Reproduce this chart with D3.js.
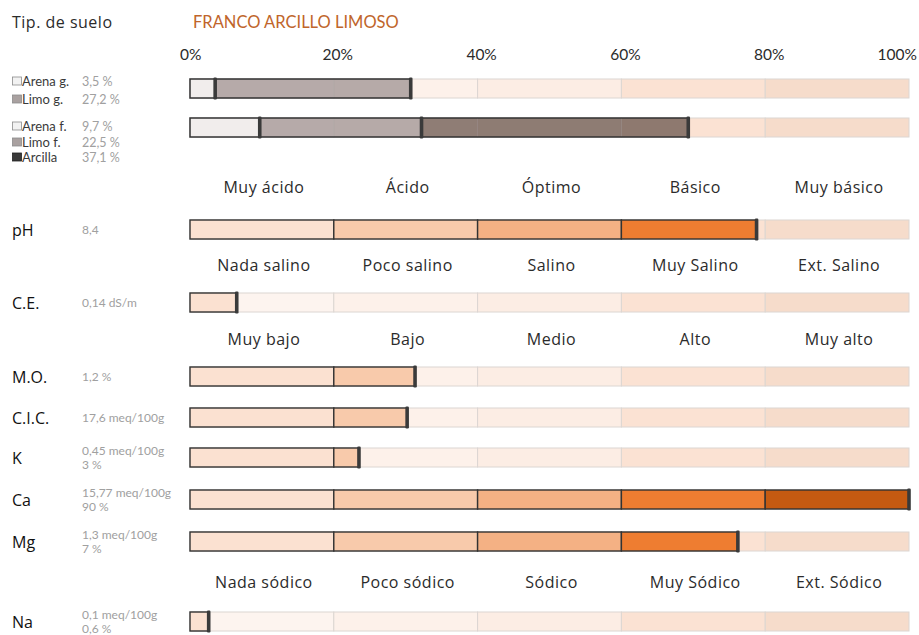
<!DOCTYPE html>
<html>
<head>
<meta charset="utf-8">
<script src="https://d3js.org/d3.v7.min.js"></script>
<style>
  body { margin: 0; background: #fff; }
  text { font-family: Lato, "Open Sans", sans-serif; }
  .wide { font-family: "Open Sans", Lato, sans-serif; }
</style>
</head>
<body>
<div id="container"></div>
<script>

// ---- data ----
var soilType = "FRANCO ARCILLO LIMOSO";
var tickValues = [0, 20, 40, 60, 80, 100];
var tickLabels = ["0%", "20%", "40%", "60%", "80%", "100%"];

var coarseNames = ["Arena g.", "Limo g."];
var coarseValues = [3.5, 27.2];
var coarseLabels = ["3,5 %", "27,2 %"];
var fineNames = ["Arena f.", "Limo f.", "Arcilla"];
var fineValues = [9.7, 22.5, 37.1];
var fineLabels = ["9,7 %", "22,5 %", "37,1 %"];

var phClasses = ["Muy ácido", "Ácido", "Óptimo", "Básico", "Muy básico"];
var ceClasses = ["Nada salino", "Poco salino", "Salino", "Muy Salino", "Ext. Salino"];
var levelClasses = ["Muy bajo", "Bajo", "Medio", "Alto", "Muy alto"];
var naClasses = ["Nada sódico", "Poco sódico", "Sódico", "Muy Sódico", "Ext. Sódico"];

var params = ["pH", "C.E.", "M.O.", "C.I.C.", "K", "Ca", "Mg", "Na"];
var paramText = [["8,4"], ["0,14 dS/m"], ["1,2 %"], ["17,6 meq/100g"],
  ["0,45 meq/100g", "3 %"], ["15,77 meq/100g", "90 %"], ["1,3 meq/100g", "7 %"], ["0,1 meq/100g", "0,6 %"]];
// position of each value on the 0-100 class scale
var paramLevel = [78.8, 6.5, 31.3, 30.2, 23.5, 100, 76.2, 2.6];

// ---- layout / style ----
var width = 919, height = 635, barH = 19;
var trackColors = ["#fdf4ef", "#fdf1ea", "#fcede4", "#fbe2d3", "#f6dccb"];
var fillColors = ["#fbe1d1", "#f8caab", "#f4b184", "#ee7d31", "#c55a11"];
var texColors = { "Arena g.": "#ecebeb", "Limo g.": "#9d9191", "Arena f.": "#ecebeb", "Limo f.": "#9d9191", "Arcilla": "#6a554e" };
var swatchColors = { "Arena g.": "#f2f2f2", "Limo g.": "#a9a1a0", "Arena f.": "#f2f2f2", "Limo f.": "#a9a1a0", "Arcilla": "#3a3a3a" };

var x = d3.scaleLinear().domain([0, 100]).range([190, 909]);
var rowTop = d3.scaleOrdinal()
  .domain(["coarse", "fine"].concat(params))
  .range([79, 118, 220, 293, 367, 408, 448, 490, 532, 612]);
var headerY = d3.scaleOrdinal()
  .domain(["pH", "C.E.", "M.O.", "Na"])
  .range([193, 271, 345, 588]);
var headerClasses = { "pH": phClasses, "C.E.": ceClasses, "M.O.": levelClasses, "Na": naClasses };
var legendY = d3.scaleOrdinal()
  .domain(coarseNames.concat(fineNames))
  .range([81, 99, 126, 142, 157]);

var svg = d3.select('#container')
  .append('svg')
  .attr('width', width)
  .attr('height', height);

// ---- titles ----
svg.append("text").attr("class", "wide").attr("x", 12).attr("y", 28)
  .style("font-size", "16px").style("letter-spacing", "0.5px").style("fill", "#2b2b2b").text("Tip. de suelo");
svg.append("text").attr("x", 193).attr("y", 28)
  .style("font-size", "16.5px").style("fill", "#c0652b").text(soilType);

svg.selectAll(".tick").data(tickValues).enter().append("text")
  .attr("class", "tick")
  .attr("x", (d, i) => i == 0 ? x(d) - 10 : i == tickValues.length - 1 ? x(d) + 8 : x(d) + 4)
  .attr("y", 60)
  .attr("text-anchor", (d, i) => i == 0 ? "start" : i == tickValues.length - 1 ? "end" : "middle")
  .style("font-size", "15.5px").style("fill", "#2b2b2b")
  .text((d, i) => tickLabels[i]);

// ---- helpers ----
function track(top) {
  var g = svg.append("g");
  g.selectAll("rect").data(d3.range(5)).enter().append("rect")
    .attr("x", i => x(tickValues[i]))
    .attr("y", top)
    .attr("width", i => x(tickValues[i + 1]) - x(tickValues[i]))
    .attr("height", barH)
    .style("fill", i => trackColors[i])
    .style("stroke", "#dcd6d2").style("stroke-width", 1);
}

function marker(v, top) {
  svg.append("rect")
    .attr("x", x(v) - 1.8).attr("y", top - 1.5)
    .attr("width", 3.6).attr("height", barH + 3)
    .attr("rx", 1.2)
    .style("fill", "#3a3a3a");
}

// ---- texture bars ----
function textureBar(names, values, top) {
  track(top);
  var start = 0;
  var segs = [];
  values.forEach((v, k) => {
    var end = start + v;
    for (var i = 0; i < 5; i++) {
      var a = Math.max(start, tickValues[i]), b = Math.min(end, tickValues[i + 1]);
      if (b > a) segs.push({ a: a, b: b, name: names[k] });
    }
    start = end;
  });
  svg.append("g").selectAll("rect").data(segs).enter().append("rect")
    .attr("x", d => x(d.a)).attr("y", top)
    .attr("width", d => x(d.b) - x(d.a)).attr("height", barH)
    .style("fill", d => texColors[d.name]).style("fill-opacity", 0.75);
  svg.append("rect")
    .attr("x", x(0)).attr("y", top)
    .attr("width", x(start) - x(0)).attr("height", barH)
    .style("fill", "none").style("stroke", "#333").style("stroke-width", 1.5);
  d3.cumsum(values).forEach(c => marker(c, top));
}
textureBar(coarseNames, coarseValues, rowTop("coarse"));
textureBar(fineNames, fineValues, rowTop("fine"));

// legend
var legItems = coarseNames.map((n, i) => ({ name: n, label: coarseLabels[i] }))
  .concat(fineNames.map((n, i) => ({ name: n, label: fineLabels[i] })));
var leg = svg.append("g").selectAll("g").data(legItems).enter().append("g");
leg.append("rect")
  .attr("x", 12.5).attr("y", d => legendY(d.name) - 4)
  .attr("width", 9).attr("height", 8)
  .style("fill", d => swatchColors[d.name])
  .style("stroke", d => d.name == "Arcilla" ? "#222" : "#8c8c8c").style("stroke-width", 0.8);
leg.append("text")
  .attr("x", 22).attr("y", d => legendY(d.name) + 4.5)
  .style("font-size", "13px").style("fill", "#3a3a3a")
  .text(d => d.name);
leg.append("text")
  .attr("x", 82).attr("y", d => legendY(d.name) + 4.5)
  .style("font-size", "12.5px").style("fill", "#a0a0a0")
  .text(d => d.label);

// ---- class headers ----
Object.keys(headerClasses).forEach(p => {
  svg.append("g").selectAll("text").data(headerClasses[p]).enter().append("text")
    .attr("class", "wide")
    .attr("x", (d, i) => (x(tickValues[i]) + x(tickValues[i + 1])) / 2 + 2)
    .attr("y", headerY(p))
    .attr("text-anchor", "middle")
    .style("font-size", "16px").style("letter-spacing", "0.5px").style("fill", "#2b2b2b")
    .text(d => d);
});

// ---- parameter rows ----
params.forEach((p, k) => {
  var top = rowTop(p), v = paramLevel[k];
  track(top);
  var segs = d3.range(5).filter(i => tickValues[i] < v)
    .map(i => ({ i: i, a: tickValues[i], b: Math.min(v, tickValues[i + 1]) }));
  svg.append("g").selectAll("rect").data(segs).enter().append("rect")
    .attr("x", d => x(d.a)).attr("y", top)
    .attr("width", d => x(d.b) - x(d.a)).attr("height", barH)
    .style("fill", d => fillColors[d.i])
    .style("stroke", "#333").style("stroke-width", 1.4);
  marker(v, top);

  svg.append("text").attr("class", "wide").attr("x", 12).attr("y", top + 15.5)
    .style("font-size", "16px").style("fill", "#111").text(p);
  var lines = paramText[k];
  svg.append("g").selectAll("text").data(lines).enter().append("text")
    .attr("x", 82)
    .attr("y", (d, i) => lines.length == 1 ? top + 14 : top + 6.5 + i * 14)
    .style("font-size", "12px").style("fill", "#a0a0a0")
    .text(d => d);
});

</script>
</body>
</html>
